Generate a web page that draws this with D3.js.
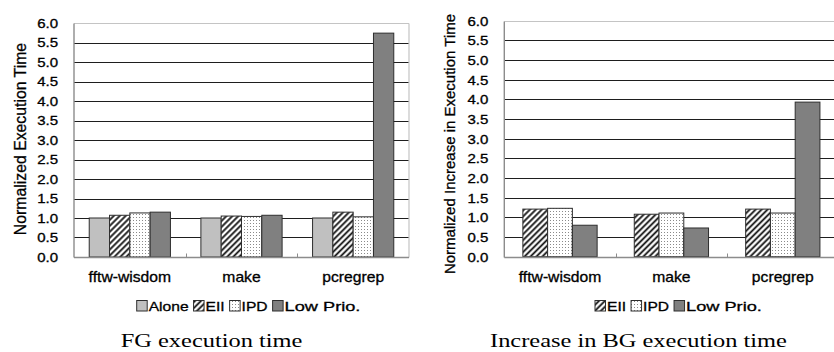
<!DOCTYPE html>
<html>
<head>
<meta charset="utf-8">
<script src="https://cdn.jsdelivr.net/npm/d3@7"></script>
<style>
  html, body { margin: 0; padding: 0; background: #fff; }
  svg { display: block; }
  .sans { stroke: #000; stroke-width: 0.3px; }
</style>
</head>
<body>
<svg id="fig" width="834" height="352"></svg>
<script>
// ---- data -------------------------------------------------------------
const categories = ["fftw-wisdom", "make", "pcregrep"];
const yTickLabels = ["0.0", "0.5", "1.0", "1.5", "2.0", "2.5", "3.0",
                     "3.5", "4.0", "4.5", "5.0", "5.5", "6.0"];

// FG execution time (normalized)
const fgSeries = ["Alone", "EII", "IPD", "Low Prio."];
const fgAlone   = [1.00, 1.00, 1.00];
const fgEII     = [1.07, 1.05, 1.15];
const fgIPD     = [1.13, 1.04, 1.03];
const fgLowPrio = [1.15, 1.07, 5.74];

// Increase in BG execution time (normalized)
const bgSeries = ["EII", "IPD", "Low Prio."];
const bgEII     = [1.21, 1.08, 1.21];
const bgIPD     = [1.23, 1.11, 1.11];
const bgLowPrio = [0.80, 0.73, 3.93];

// ---- styling ----------------------------------------------------------
const SANS = "'Liberation Sans', Arial, sans-serif";
const SERIF = "'Liberation Serif', 'Times New Roman', serif";
const fills = {
  "Alone": "#c0c0c0",
  "EII": "url(#hatch)",
  "IPD": "url(#dots)",
  "Low Prio.": "#808080"
};

const svg = d3.select("#fig");
svg.append("rect").attr("width", 834).attr("height", 352).attr("fill", "#fff");

const defs = svg.append("defs");
const hatch = defs.append("pattern")
  .attr("id", "hatch").attr("patternUnits", "userSpaceOnUse")
  .attr("width", 4.2).attr("height", 4.2)
  .attr("patternTransform", "rotate(45)");
hatch.append("rect").attr("width", 4.2).attr("height", 4.2).attr("fill", "#fff");
hatch.append("line").attr("x1", 2.1).attr("x2", 2.1).attr("y1", 0).attr("y2", 4.2)
  .attr("stroke", "#111").attr("stroke-width", 1.8);

const dots = defs.append("pattern")
  .attr("id", "dots").attr("patternUnits", "userSpaceOnUse")
  .attr("width", 3).attr("height", 3);
dots.append("rect").attr("width", 3).attr("height", 3).attr("fill", "#fff");
dots.append("rect").attr("x", 1).attr("y", 1).attr("width", 1).attr("height", 1).attr("fill", "#8a8a8a");

// text drawn with a horizontal stretch
function stretchedText(g, x, y, str, size, sx, anchor, family) {
  return g.append("text")
    .attr("transform", `translate(${x},${y}) scale(${sx},1)`)
    .attr("font-family", family || SANS)
    .attr("font-size", size)
    .attr("text-anchor", anchor || "start")
    .attr("fill", "#000")
    .text(str);
}

function drawPanel(opt) {
  const g = svg.append("g");
  const { left, right, top, bottom, series, values } = opt;

  const x = d3.scaleBand().domain(categories).range([left, right]);
  const xi = d3.scaleBand().domain(series).range([0, x.bandwidth()])
    .paddingInner(0).paddingOuter(0.75);
  const y = d3.scaleLinear().domain([0, 6]).range([bottom, top]);
  const tickVals = yTickLabels.map(Number);

  // horizontal gridlines
  g.append("g").selectAll("line")
    .data(tickVals.filter(v => v > 0 && v < 6))
    .join("line")
    .attr("x1", left).attr("x2", right)
    .attr("y1", d => Math.round(y(d)) + 0.5).attr("y2", d => Math.round(y(d)) + 0.5)
    .attr("stroke", "#1e1e1e").attr("stroke-width", 1);

  // plot frame: light top/right, grey axes
  const yT = Math.round(y(6)) + 0.5, yB = Math.round(y(0)) + 0.5;
  g.append("line").attr("x1", left).attr("x2", right).attr("y1", yT).attr("y2", yT)
    .attr("stroke", "#c4c4c4").attr("stroke-width", 1.2);
  g.append("line").attr("x1", right).attr("x2", right).attr("y1", yT).attr("y2", yB)
    .attr("stroke", "#c4c4c4").attr("stroke-width", 1.2);

  // bars
  series.forEach((s, si) => {
    g.append("g").selectAll("rect")
      .data(values[si])
      .join("rect")
      .attr("x", (d, i) => x(categories[i]) + xi(s))
      .attr("y", d => y(d))
      .attr("width", xi.bandwidth())
      .attr("height", d => y(0) - y(d))
      .attr("fill", fills[s])
      .attr("stroke", "#2e2e2e").attr("stroke-width", 1);
  });

  g.append("line").attr("x1", left).attr("x2", left).attr("y1", yT).attr("y2", yB)
    .attr("stroke", "#8c8c8c").attr("stroke-width", 1.4);
  g.append("line").attr("x1", left).attr("x2", right).attr("y1", yB).attr("y2", yB)
    .attr("stroke", "#8c8c8c").attr("stroke-width", 1.4);

  // small category separators on the x axis
  g.append("g").selectAll("line")
    .data(categories.slice(1))
    .join("line")
    .attr("x1", d => Math.round(x(d)) + 0.5).attr("x2", d => Math.round(x(d)) + 0.5)
    .attr("y1", yB).attr("y2", yB - 4)
    .attr("stroke", "#8c8c8c").attr("stroke-width", 1);

  // y axis tick labels
  const sxTick = 1.25;
  const yAxis = g.append("g").attr("transform", `translate(${left},0)`)
    .call(d3.axisLeft(y).tickValues(tickVals)
      .tickFormat((d, i) => yTickLabels[i]).tickSize(0).tickPadding(16));
  yAxis.select(".domain").remove();
  yAxis.selectAll("text")
    .attr("class", "sans")
    .attr("font-family", SANS).attr("font-size", 12).attr("fill", "#000")
    .attr("x", -16 / sxTick).attr("dy", "0.36em")
    .attr("transform", `scale(${sxTick},1)`);

  // category labels
  const xAxis = g.append("g").attr("transform", `translate(0,${bottom})`)
    .call(d3.axisBottom(x).tickSize(0).tickPadding(0));
  xAxis.select(".domain").remove();
  xAxis.selectAll("text")
    .attr("class", "sans")
    .attr("font-family", SANS).attr("font-size", 14).attr("fill", "#000")
    .attr("y", 25).attr("dy", 0)
    .attr("transform", "scale(1.12,1)")
    .attr("x", 0);
  xAxis.selectAll(".tick").attr("transform", d => `translate(${x(d) + x.bandwidth() / 2},0)`);

  // y axis title
  g.append("text")
    .attr("class", "sans")
    .attr("transform", `translate(${opt.titleX},${opt.titleY}) rotate(-90)`)
    .attr("font-family", SANS).attr("font-size", opt.titleSize)
    .attr("text-anchor", "middle").attr("fill", "#000")
    .text(opt.title);

  // legend
  const lg = g.append("g");
  let cx = opt.legendX;
  const base = 311;
  series.forEach(s => {
    lg.append("rect").attr("x", cx).attr("y", base - 10.5)
      .attr("width", 10.5).attr("height", 10.5)
      .attr("fill", fills[s]).attr("stroke", "#2e2e2e").attr("stroke-width", 1);
    const sx = s === "Low Prio." ? 1.4 : 1.2;
    const t = stretchedText(lg, cx + 12, base, s, 13, sx).attr("class", "sans");
    cx += 12 + t.node().getComputedTextLength() * sx + 5;
  });

  // caption
  stretchedText(g, opt.captionX, 347, opt.caption, 18.5, 1.32, "start", SERIF);
}

drawPanel({
  left: 74, right: 409, top: 23, bottom: 257,
  series: fgSeries, values: [fgAlone, fgEII, fgIPD, fgLowPrio],
  title: "Normalized Execution Time", titleX: 25.5, titleY: 139, titleSize: 15.8,
  legendX: 136.7,
  caption: "FG execution time", captionX: 120.7
});

drawPanel({
  left: 504.3, right: 838.5, top: 20.7, bottom: 256.7,
  series: bgSeries, values: [bgEII, bgIPD, bgLowPrio],
  title: "Normalized Increase in Execution Time", titleX: 454.5, titleY: 144, titleSize: 15,
  legendX: 595,
  caption: "Increase in BG execution time", captionX: 490
});
</script>
</body>
</html>
